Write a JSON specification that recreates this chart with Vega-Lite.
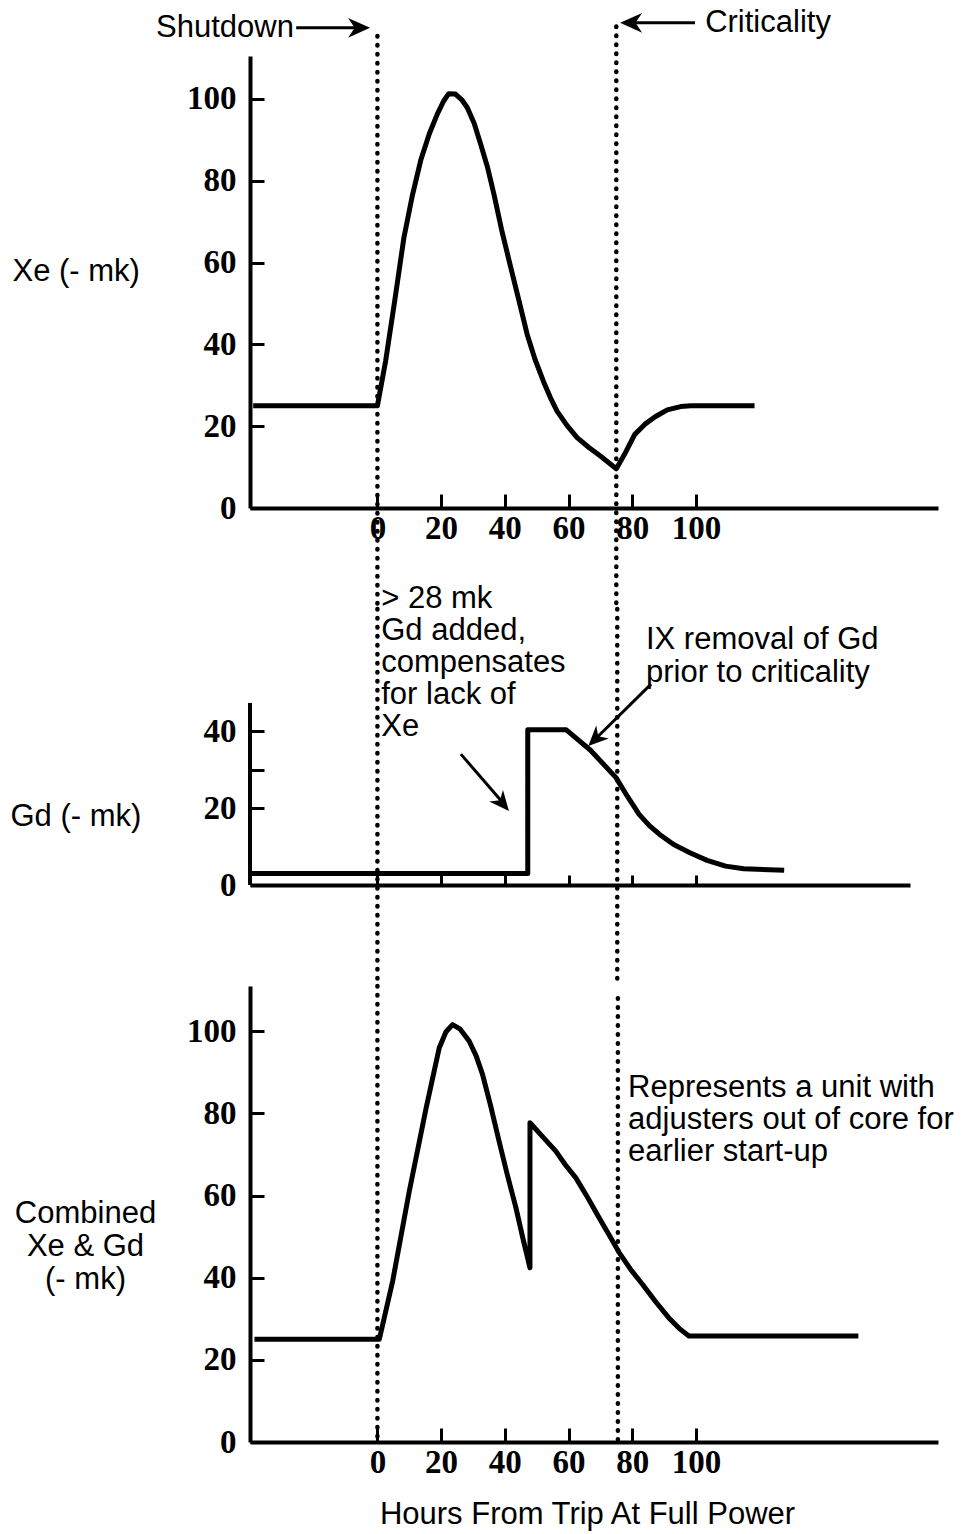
{
  "$schema": "https://vega.github.io/schema/vega-lite/v6.json",
  "padding": {"left": 10, "top": 6, "right": 5, "bottom": 5},
  "bounds": "flush",
  "spacing": 101,
  "background": "white",
  "resolve": {"scale": {"x": "independent", "y": "independent"}},
  "config": {
    "view": {"stroke": null},
    "axis": {
      "grid": false,
      "domainColor": "black",
      "domainWidth": 4,
      "tickColor": "black",
      "tickWidth": 3,
      "labelFont": "Liberation Serif",
      "labelFontSize": 33,
      "labelFontWeight": "bold",
      "labelColor": "black",
      "labelOverlap": false,
      "labelBound": false,
      "labelFlush": false,
      "titleFont": "Liberation Sans",
      "titleFontSize": 31,
      "titleFontWeight": "normal",
      "titleColor": "black"
    },
    "text": {"font": "Liberation Sans", "fontSize": 31, "color": "black"}
  },
  "vconcat": [
    {
      "width": 688,
      "height": 452,
      "encoding": {
        "x": {"field": "h", "type": "quantitative", "scale": {"domain": [-40, 176], "nice": false, "zero": false},
          "axis": {"values": [0, 20, 40, 60, 80, 100], "title": null, "tickSize": -14, "labelPadding": 18}},
        "y": {"field": "v", "type": "quantitative", "scale": {"domain": [0, 110.5], "nice": false},
          "axis": {"values": [0, 20, 40, 60, 80, 100], "title": "Xe (- mk)", "titleAngle": 0, "titleAlign": "left", "titleBaseline": "middle", "titleX": -238, "titleY": 215, "tickSize": -14, "labelPadding": 28}}
      },
      "layer": [
        {
          "data": {"values": [{"h": 0, "v": 115.4, "v2": -24.7}, {"h": 75, "v": 117.7, "v2": -24.7}]},
          "mark": {"type": "rule", "color": "black", "strokeWidth": 4.5, "strokeDash": [0.5, 8.5], "strokeCap": "round"},
          "encoding": {"y2": {"field": "v2"}}
        },
        {
          "data": {"values": [
            {"h": -39, "v": 25}, {"h": 0, "v": 25}, {"h": 2.6, "v": 36}, {"h": 5.5, "v": 51}, {"h": 8.3, "v": 66},
            {"h": 11, "v": 76.5}, {"h": 13.6, "v": 85}, {"h": 16.3, "v": 91.5}, {"h": 18.8, "v": 96.3}, {"h": 20.8, "v": 99.5},
            {"h": 22.4, "v": 101.3}, {"h": 24.5, "v": 101.2}, {"h": 26.5, "v": 99.8}, {"h": 28.2, "v": 97.9}, {"h": 30.4, "v": 94},
            {"h": 32.4, "v": 89}, {"h": 34.5, "v": 83.5}, {"h": 36.5, "v": 77}, {"h": 39, "v": 68}, {"h": 41.8, "v": 59},
            {"h": 44.5, "v": 50.5}, {"h": 47, "v": 42.5}, {"h": 49.5, "v": 36.3}, {"h": 52.1, "v": 31}, {"h": 54.3, "v": 27},
            {"h": 56.4, "v": 23.7}, {"h": 59.5, "v": 20.2}, {"h": 62.7, "v": 17.2}, {"h": 66.4, "v": 14.8}, {"h": 70, "v": 12.7},
            {"h": 75, "v": 9.6}, {"h": 77.5, "v": 13}, {"h": 80.8, "v": 18}, {"h": 84, "v": 20.5}, {"h": 87.2, "v": 22.3},
            {"h": 91, "v": 24}, {"h": 95.2, "v": 24.8}, {"h": 98.4, "v": 25}, {"h": 118.4, "v": 25}
          ]},
          "mark": {"type": "line", "color": "black", "strokeWidth": 5, "strokeJoin": "round"}
        },
        {
          "data": {"values": [{"h": -26.2, "v": 117.4, "label": "Shutdown"}]},
          "mark": {"type": "text", "align": "right", "baseline": "middle"},
          "encoding": {"text": {"field": "label"}}
        },
        {
          "data": {"values": [{"h": 102.9, "v": 118.6, "label": "Criticality"}]},
          "mark": {"type": "text", "align": "left", "baseline": "middle"},
          "encoding": {"text": {"field": "label"}}
        },
        {
          "data": {"values": [{"h": -25.5, "v": 117.4, "h2": -4, "v2": 117.4}, {"h": 78, "v": 118.6, "h2": 99.7, "v2": 118.6}]},
          "mark": {"type": "rule", "color": "black", "strokeWidth": 3},
          "encoding": {"x2": {"field": "h2"}, "y2": {"field": "v2"}}
        },
        {
          "data": {"values": [{"h": -2.3, "v": 117.4}]},
          "mark": {"type": "point", "shape": "M0,0L-2,-0.9L-1.4,0L-2,0.9Z", "filled": true, "color": "black", "opacity": 1, "size": 484, "angle": 0}
        },
        {
          "data": {"values": [{"h": 76.2, "v": 118.6}]},
          "mark": {"type": "point", "shape": "M0,0L-2,-0.9L-1.4,0L-2,0.9Z", "filled": true, "color": "black", "opacity": 1, "size": 484, "angle": 180}
        }
      ]
    },
    {
      "width": 660,
      "height": 276,
      "encoding": {
        "x": {"field": "h", "type": "quantitative", "scale": {"domain": [-40, 167.2], "nice": false, "zero": false},
          "axis": {"values": [0, 20, 40, 60, 80, 100], "title": null, "labels": false, "tickSize": -10}},
        "y": {"field": "v", "type": "quantitative", "scale": {"domain": [0, 71.7], "nice": false},
          "axis": {"values": [0, 20, 30, 40], "labelExpr": "datum.value == 30 ? '' : datum.label", "domain": false, "title": "Gd (- mk)", "titleAngle": 0, "titleAlign": "left", "titleBaseline": "middle", "titleX": -240, "titleY": 207, "tickSize": -14, "labelPadding": 28}}
      },
      "layer": [
        {
          "data": {"values": [{"h": 0, "v": 71.7, "v2": -26.2}, {"h": 75.3, "v": 71.7, "v2": -26.2}]},
          "mark": {"type": "rule", "color": "black", "strokeWidth": 4.5, "strokeDash": [0.5, 8.5], "strokeCap": "round"},
          "encoding": {"y2": {"field": "v2"}}
        },
        {
          "data": {"values": [{"h": -40, "v": 0, "v2": 47.3}]},
          "mark": {"type": "rule", "color": "black", "strokeWidth": 4},
          "encoding": {"y2": {"field": "v2"}}
        },
        {
          "data": {"values": [
            {"i": 1, "h": -40, "v": 3}, {"i": 2, "h": 47.2, "v": 3}, {"i": 3, "h": 47.2, "v": 40.3}, {"i": 4, "h": 59.3, "v": 40.3},
            {"i": 5, "h": 66.9, "v": 35}, {"i": 6, "h": 74.9, "v": 27.9}, {"i": 7, "h": 78.5, "v": 23}, {"i": 8, "h": 82.1, "v": 18.4},
            {"i": 9, "h": 85.3, "v": 15.5}, {"i": 10, "h": 88.5, "v": 13.2}, {"i": 11, "h": 93, "v": 10.5}, {"i": 12, "h": 98.1, "v": 8.4},
            {"i": 13, "h": 103.5, "v": 6.4}, {"i": 14, "h": 109.3, "v": 4.9}, {"i": 15, "h": 115, "v": 4.2}, {"i": 16, "h": 127.7, "v": 3.8}
          ]},
          "mark": {"type": "line", "color": "black", "strokeWidth": 5, "strokeJoin": "round"},
          "encoding": {"order": {"field": "i"}}
        },
        {
          "data": {"values": [{"h": 1.2, "v": 78.2, "label": "> 28 mk\nGd added,\ncompensates\nfor lack of\nXe"}]},
          "mark": {"type": "text", "align": "left", "baseline": "top", "lineBreak": "\n", "lineHeight": 32},
          "encoding": {"text": {"field": "label"}}
        },
        {
          "data": {"values": [{"h": 84.3, "v": 67.5, "label": "IX removal of Gd\nprior to criticality"}]},
          "mark": {"type": "text", "align": "left", "baseline": "top", "lineBreak": "\n", "lineHeight": 33},
          "encoding": {"text": {"field": "label"}}
        },
        {
          "data": {"values": [{"h": 26.2, "v": 34.0, "h2": 40.0, "v2": 20.8}, {"h": 85.9, "v": 52.2, "h2": 68.5, "v2": 38.0}]},
          "mark": {"type": "rule", "color": "black", "strokeWidth": 3},
          "encoding": {"x2": {"field": "h2"}, "y2": {"field": "v2"}}
        },
        {
          "data": {"values": [{"h": 41.3, "v": 19.2}]},
          "mark": {"type": "point", "shape": "M0,0L-2,-0.9L-1.4,0L-2,0.9Z", "filled": true, "color": "black", "opacity": 1, "size": 400, "angle": 50}
        },
        {
          "data": {"values": [{"h": 66.2, "v": 36.1}]},
          "mark": {"type": "point", "shape": "M0,0L-2,-0.9L-1.4,0L-2,0.9Z", "filled": true, "color": "black", "opacity": 1, "size": 400, "angle": 135.5}
        }
      ]
    },
    {
      "width": 688,
      "height": 456,
      "encoding": {
        "x": {"field": "h", "type": "quantitative", "scale": {"domain": [-40, 176], "nice": false, "zero": false},
          "axis": {"values": [0, 20, 40, 60, 80, 100], "title": "Hours From Trip At Full Power", "titleBaseline": "middle", "titleX": 337, "titleY": 72, "tickSize": -14, "labelPadding": 18}},
        "y": {"field": "v", "type": "quantitative", "scale": {"domain": [0, 111], "nice": false},
          "axis": {"values": [0, 20, 40, 60, 80, 100], "title": ["Combined", "Xe  & Gd", "(- mk)"], "titleLineHeight": 33, "titleAngle": 0, "titleAlign": "center", "titleBaseline": "middle", "titleX": -165, "titleY": 227, "tickSize": -14, "labelPadding": 28}}
      },
      "layer": [
        {
          "data": {"values": [{"h": 0, "v": 111, "v2": 0}, {"h": 75.5, "v": 108, "v2": 0}]},
          "mark": {"type": "rule", "color": "black", "strokeWidth": 4.5, "strokeDash": [0.5, 8.5], "strokeCap": "round"},
          "encoding": {"y2": {"field": "v2"}}
        },
        {
          "data": {"values": [
            {"i": 1, "h": -38.6, "v": 25}, {"i": 2, "h": 0.6, "v": 25}, {"i": 3, "h": 4.8, "v": 39.2}, {"i": 4, "h": 10, "v": 61},
            {"i": 5, "h": 15.3, "v": 81.3}, {"i": 6, "h": 19.4, "v": 95.9}, {"i": 7, "h": 21.5, "v": 99.8}, {"i": 8, "h": 23.6, "v": 101.6},
            {"i": 9, "h": 26, "v": 100.5}, {"i": 10, "h": 28.8, "v": 97.6}, {"i": 11, "h": 31, "v": 94}, {"i": 12, "h": 33, "v": 89.5},
            {"i": 13, "h": 35.5, "v": 82}, {"i": 14, "h": 38.2, "v": 73.2}, {"i": 15, "h": 40.8, "v": 65}, {"i": 16, "h": 43.5, "v": 57},
            {"i": 17, "h": 45.7, "v": 49.5}, {"i": 18, "h": 47.9, "v": 42.4}, {"i": 19, "h": 47.9, "v": 77.7}, {"i": 20, "h": 52, "v": 74.2},
            {"i": 21, "h": 56, "v": 70.8}, {"i": 22, "h": 59, "v": 67.5}, {"i": 23, "h": 62.3, "v": 64.3}, {"i": 24, "h": 66, "v": 59.5},
            {"i": 25, "h": 69.6, "v": 54.6}, {"i": 26, "h": 72.8, "v": 50.3}, {"i": 27, "h": 75.9, "v": 46.1}, {"i": 28, "h": 79.5, "v": 42},
            {"i": 29, "h": 83.2, "v": 38.4}, {"i": 30, "h": 87.3, "v": 34.2}, {"i": 31, "h": 91.5, "v": 30.2}, {"i": 32, "h": 94.8, "v": 27.6},
            {"i": 33, "h": 97.8, "v": 25.8}, {"i": 34, "h": 151, "v": 25.8}
          ]},
          "mark": {"type": "line", "color": "black", "strokeWidth": 5, "strokeJoin": "round"},
          "encoding": {"order": {"field": "i"}}
        },
        {
          "data": {"values": [{"h": 78.7, "v": 89.8, "label": "Represents a unit with\nadjusters out of core for\nearlier start-up"}]},
          "mark": {"type": "text", "align": "left", "baseline": "top", "lineBreak": "\n", "lineHeight": 32},
          "encoding": {"text": {"field": "label"}}
        }
      ]
    }
  ]
}
